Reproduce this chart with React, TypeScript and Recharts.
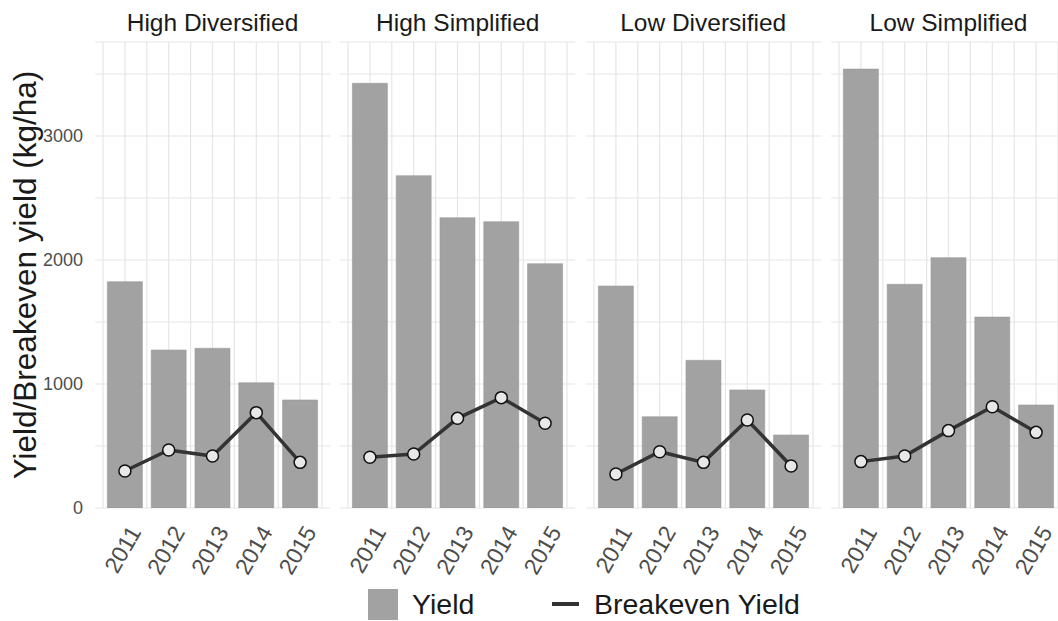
import React from 'react'
import { ComposedChart, Bar, Line, XAxis, YAxis, CartesianGrid } from 'recharts'

// ── data ──

const years = ['2011', '2012', '2013', '2014', '2015']
const facets = ['High Diversified', 'High Simplified', 'Low Diversified', 'Low Simplified']

const yieldHD = [1825, 1274, 1288, 1010, 871]
const breakevenHD = [298, 468, 419, 769, 368]
const yieldHS = [3425, 2680, 2341, 2309, 1970]
const breakevenHS = [409, 435, 723, 890, 683]
const yieldLD = [1790, 736, 1191, 952, 589]
const breakevenLD = [274, 454, 368, 710, 339]
const yieldLS = [3540, 1804, 2019, 1540, 831]
const breakevenLS = [374, 419, 624, 817, 610]

const yTicks = [0, 500, 1000, 1500, 2000, 2500, 3000, 3500]

const yieldSeries = [yieldHD, yieldHS, yieldLD, yieldLS]
const breakevenSeries = [breakevenHD, breakevenHS, breakevenLD, breakevenLS]

// ── layout ──

const FONT = '"Liberation Sans", Arial, Helvetica, sans-serif'
const PLOT_TOP = 42
const PLOT_W = 235
const PLOT_H = 466
const CHART_H = 621
const X_PAD = 8
const Y_MAX = 3758
const panelLeft = [95, 340.3, 585.7, 831]
const GRID = '#e6e6e6'

function XTick({ x, y, payload }: any) {
  const ax = x + 17
  const ay = y + 24
  return (
    <text
      x={ax}
      y={ay}
      textAnchor="end"
      transform={`rotate(-60, ${ax}, ${ay})`}
      fontSize={23}
      fill="#4d4d4d"
      fontFamily={FONT}
    >
      {payload.value}
    </text>
  )
}

// vertical grid: major at band centres, minor between them (ggplot style)
function verticalLines({ offset }: any) {
  const band = (offset.width - 2 * X_PAD) / years.length
  const out: number[] = []
  for (let k = 0; k <= years.length * 2; k++) out.push(offset.left + X_PAD + (k * band) / 2)
  return out
}

function Facet({ idx }: { idx: number }) {
  const first = idx === 0
  const data = years.map((year, i) => ({
    year,
    yield: yieldSeries[idx][i],
    breakeven: breakevenSeries[idx][i],
  }))
  const left = first ? 0 : panelLeft[idx] - 5
  const width = first ? panelLeft[0] + PLOT_W + 5 : PLOT_W + 10
  return (
    <div style={{ position: 'absolute', left, top: 0 }}>
      <ComposedChart
        width={width}
        height={CHART_H}
        data={data}
        barCategoryGap="10%"
        margin={{ top: PLOT_TOP, right: 5, bottom: 0, left: 5 }}
      >
        <CartesianGrid
          stroke={GRID}
          strokeWidth={1.2}
          verticalCoordinatesGenerator={verticalLines}
        />
        <XAxis
          dataKey="year"
          interval={0}
          padding={{ left: X_PAD, right: X_PAD }}
          axisLine={false}
          tickLine={false}
          tickSize={0}
          tickMargin={0}
          height={CHART_H - PLOT_TOP - PLOT_H}
          tick={<XTick />}
        />
        <YAxis
          hide={!first}
          width={90}
          domain={[0, Y_MAX]}
          ticks={yTicks}
          allowDataOverflow
          axisLine={false}
          tickLine={false}
          tickSize={0}
          tickMargin={12}
          tickFormatter={(v: number) => (v % 1000 === 0 ? String(v) : '')}
          tick={{ fill: '#4d4d4d', fontSize: 18, fontFamily: FONT }}
        />
        <Bar dataKey="yield" fill="#a2a2a2" stroke="#9a9a9a" strokeWidth={0.6} isAnimationActive={false} />
        <Line
          dataKey="breakeven"
          stroke="#333333"
          strokeWidth={3.5}
          dot={{ r: 6, fill: '#e8e8e8', stroke: '#111111', strokeWidth: 1.5 }}
          isAnimationActive={false}
        />
      </ComposedChart>
      <div
        style={{
          position: 'absolute',
          left: first ? panelLeft[0] : 5,
          width: PLOT_W,
          top: 9,
          textAlign: 'center',
          fontSize: 24.5,
          color: '#1a1a1a',
          fontFamily: FONT,
          lineHeight: '28px',
          whiteSpace: 'nowrap',
        }}
      >
        {facets[idx]}
      </div>
    </div>
  )
}

export default function App() {
  return (
    <div
      style={{
        position: 'absolute',
        left: 0,
        top: 0,
        width: 1058,
        height: 621,
        overflow: 'hidden',
        background: '#ffffff',
        fontFamily: FONT,
      }}
    >
      {facets.map((_, i) => (
        <Facet key={i} idx={i} />
      ))}

      {/* y axis title */}
      <div
        style={{
          position: 'absolute',
          left: 25,
          top: PLOT_TOP + PLOT_H / 2,
          transform: 'translate(-50%, -50%) rotate(-90deg)',
          fontSize: 31.5,
          color: '#1a1a1a',
          whiteSpace: 'nowrap',
        }}
      >
        Yield/Breakeven yield (kg/ha)
      </div>

      {/* legend */}
      <div style={{ position: 'absolute', left: 368, top: 589, width: 30, height: 31, background: '#a2a2a2' }} />
      <div style={{ position: 'absolute', left: 412, top: 587, fontSize: 28.5, color: '#1a1a1a', lineHeight: '34px' }}>
        Yield
      </div>
      <div style={{ position: 'absolute', left: 552, top: 602, width: 27, height: 4, background: '#333333' }} />
      <div style={{ position: 'absolute', left: 594, top: 587, fontSize: 28.5, color: '#1a1a1a', lineHeight: '34px' }}>
        Breakeven Yield
      </div>
    </div>
  )
}
